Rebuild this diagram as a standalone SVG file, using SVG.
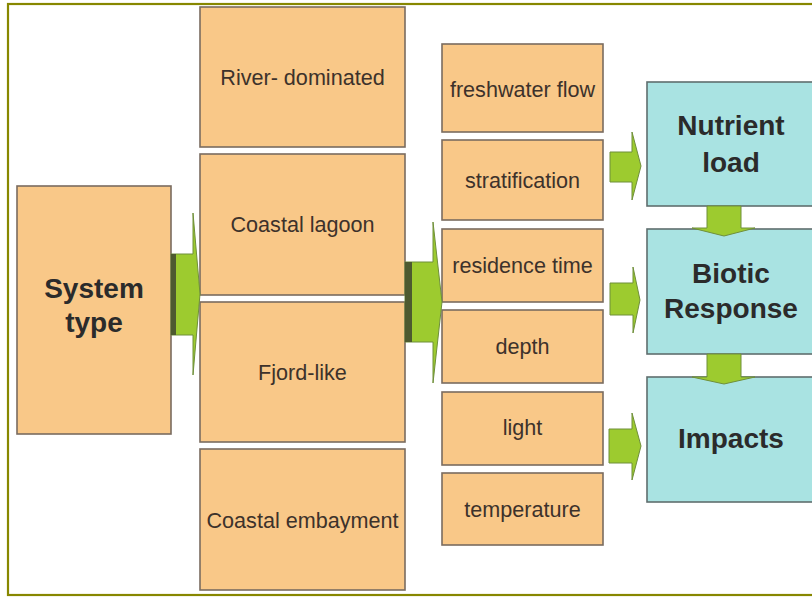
<svg xmlns="http://www.w3.org/2000/svg" width="812" height="598" viewBox="0 0 812 598">
  <style>
    .box { fill: #f9c888; stroke: #7a6c60; stroke-width: 1.6; }
    .out { fill: #a9e3e2; stroke: #5f6e6e; stroke-width: 1.6; }
    .lbl { font-family: "Liberation Sans", Arial, sans-serif; font-size: 21.6px; fill: #3d322b; text-anchor: middle; }
    .big { font-family: "Liberation Sans", Arial, sans-serif; font-size: 28px; font-weight: bold; fill: #2b2b2b; text-anchor: middle; }
    .arrow { fill: #9dcb2f; stroke: #6f8f3a; stroke-width: 1; stroke-linejoin: miter; }
    .band { fill: #4d5a30; }
  </style>

  <rect x="0" y="0" width="812" height="598" fill="#ffffff"/>
  <!-- outer frame -->
  <rect x="8" y="4" width="820" height="591" fill="none" stroke="#878700" stroke-width="2.2"/>

  <!-- source node -->
  <g id="system-type">
    <rect class="box" x="17" y="186" width="154" height="248"/>
    <text class="big" x="94" y="298">System</text>
    <text class="big" x="94" y="332">type</text>
  </g>

  <!-- system classes -->
  <g id="river-dominated">
    <rect class="box" x="200" y="7" width="205" height="140"/>
    <text class="lbl" x="302.5" y="85">River- dominated</text>
  </g>
  <g id="coastal-lagoon">
    <rect class="box" x="200" y="154" width="205" height="141"/>
    <text class="lbl" x="302.5" y="232">Coastal lagoon</text>
  </g>
  <g id="fjord-like">
    <rect class="box" x="200" y="302" width="205" height="140"/>
    <text class="lbl" x="302.5" y="380">Fjord-like</text>
  </g>
  <g id="coastal-embayment">
    <rect class="box" x="200" y="449" width="205" height="141"/>
    <text class="lbl" x="302.5" y="528">Coastal embayment</text>
  </g>

  <!-- controlling factors -->
  <g id="freshwater-flow">
    <rect class="box" x="442" y="44" width="161" height="88"/>
    <text class="lbl" x="522.5" y="97">freshwater flow</text>
  </g>
  <g id="stratification">
    <rect class="box" x="442" y="140" width="161" height="80"/>
    <text class="lbl" x="522.5" y="188">stratification</text>
  </g>
  <g id="residence-time">
    <rect class="box" x="442" y="229" width="161" height="73"/>
    <text class="lbl" x="522.5" y="273">residence time</text>
  </g>
  <g id="depth">
    <rect class="box" x="442" y="310" width="161" height="73"/>
    <text class="lbl" x="522.5" y="354">depth</text>
  </g>
  <g id="light">
    <rect class="box" x="442" y="392" width="161" height="73"/>
    <text class="lbl" x="522.5" y="435">light</text>
  </g>
  <g id="temperature">
    <rect class="box" x="442" y="473" width="161" height="72"/>
    <text class="lbl" x="522.5" y="517">temperature</text>
  </g>

  <!-- outcome chain -->
  <g id="nutrient-load">
    <rect class="out" x="647" y="82" width="168" height="124"/>
    <text class="big" x="731" y="135">Nutrient</text>
    <text class="big" x="731" y="172">load</text>
  </g>
  <g id="biotic-response">
    <rect class="out" x="647" y="229" width="168" height="125"/>
    <text class="big" x="731" y="283">Biotic</text>
    <text class="big" x="731" y="318">Response</text>
  </g>
  <g id="impacts">
    <rect class="out" x="647" y="377" width="168" height="125"/>
    <text class="big" x="731" y="448">Impacts</text>
  </g>

  <!-- connectors -->
  <g id="connectors">
    <polygon class="arrow" points="171,254 193,254 193,213 200,294 193,375 193,335 171,335"/>
    <rect class="band" x="171" y="254" width="5" height="81"/>

    <polygon class="arrow" points="405,262 433,262 433,222 442,302 433,383 433,342 405,342"/>
    <rect class="band" x="405" y="262" width="7" height="80"/>

    <polygon class="arrow" points="610,152 632,152 632,132 641,166 632,200 632,182 610,182"/>
    <polygon class="arrow" points="610,283 633,283 633,267 640,300 633,333 633,315 610,315"/>
    <polygon class="arrow" points="609,429 632,429 632,413 641,446 632,480 632,463 609,463"/>

    <polygon class="arrow" points="707,206 741,206 741,228 755,228 724,236 692,228 707,228"/>
    <polygon class="arrow" points="707,354 741,354 741,377 755,377 724,384 692,377 707,377"/>
  </g>
</svg>
